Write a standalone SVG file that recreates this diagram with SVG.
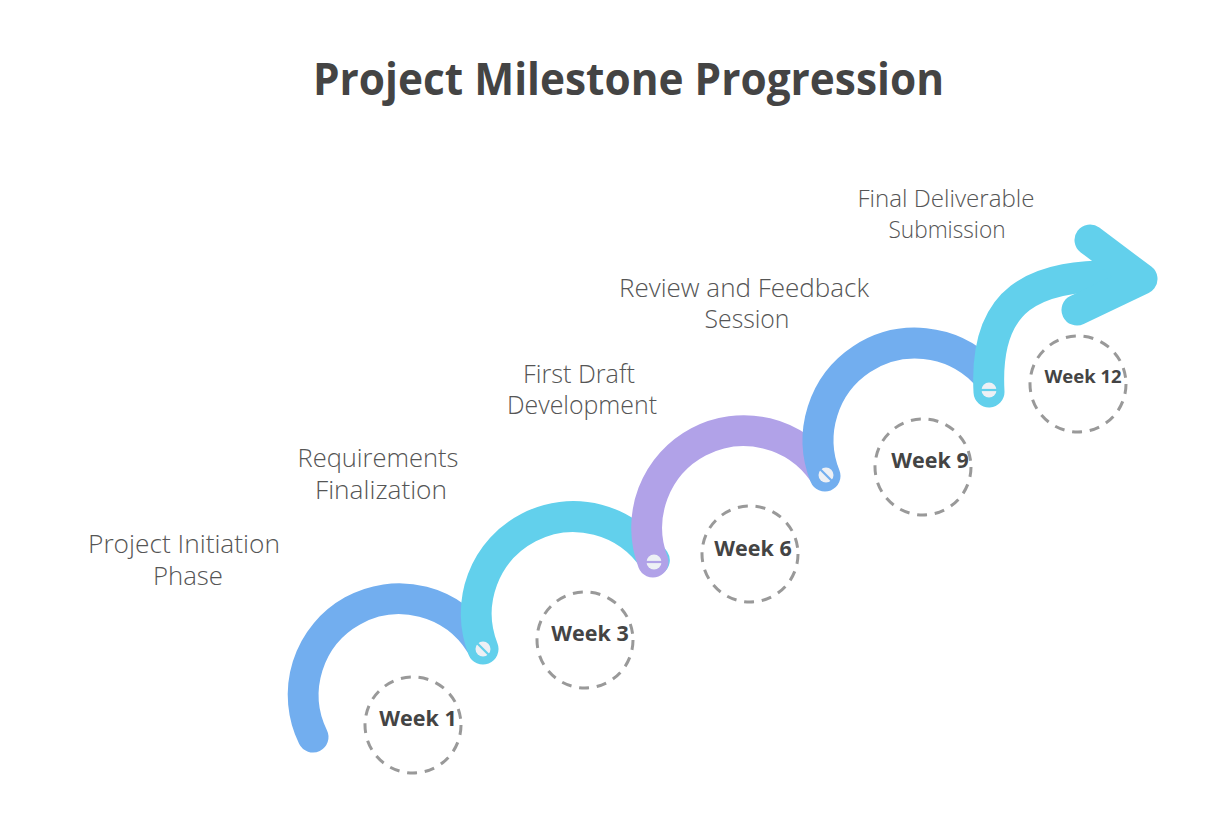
<svg xmlns="http://www.w3.org/2000/svg" width="1212" height="830" viewBox="0 0 1212 830">
<style>
.title{font-family:"Open Sans","Liberation Sans",sans-serif;font-weight:700;font-size:44px;fill:#444;}
.lbl{font-family:"Open Sans","Liberation Sans",sans-serif;font-weight:300;font-size:25px;fill:#555;text-anchor:middle;}
.sm{font-size:24px;}
.wk{font-family:"Open Sans","Liberation Sans",sans-serif;font-weight:700;font-size:21.5px;fill:#444;text-anchor:middle;}
.wk12{font-size:18.5px;}
.ring{fill:none;stroke:#999;stroke-width:3;stroke-dasharray:10 7.8;}
.arc{fill:none;stroke-width:31;stroke-linecap:round;stroke-linejoin:round;}
.blue{stroke:#72AEEF;}
.cyan{stroke:#62D0EC;}
.purple{stroke:#B1A2E8;}
.dot{fill:#EDF0F5;}
.stripe{stroke-width:2.2;}
</style>
<rect width="1212" height="830" fill="#fff"/>
<text class="title" x="313" y="95" textLength="631" lengthAdjust="spacingAndGlyphs">Project Milestone Progression</text>

<g id="connectors">
<path class="arc blue" d="M 313 737 A 96 96 0 0 1 480.5 643.7"/>
<path class="arc cyan" d="M 483 649 A 97 97 0 0 1 654.3 560.2"/>
<circle class="dot" cx="483" cy="649" r="7.5"/>
<line class="stripe cyan" x1="477" y1="643" x2="489" y2="655"/>
<path class="arc purple" d="M 653 562 A 97 97 0 0 1 823.3 472.2"/>
<circle class="dot" cx="654" cy="562" r="7.5"/>
<line class="stripe purple" x1="646" y1="562" x2="662" y2="562"/>
<path class="arc blue" d="M 825 476 A 97 97 0 0 1 983.6 371.4"/>
<circle class="dot" cx="826" cy="475" r="7.5"/>
<line class="stripe blue" x1="820" y1="469" x2="832" y2="481"/>
<path class="arc cyan" d="M 989 392 C 984 300 1030 272 1130 276"/>
<polyline class="arc cyan" points="1090,240 1142,279 1077,310"/>
<circle class="dot" cx="989" cy="390" r="7.5"/>
<line class="stripe cyan" x1="981" y1="390" x2="997" y2="390"/>
</g>

<g id="m1">
<text class="lbl" x="184" y="553" textLength="192" lengthAdjust="spacingAndGlyphs">Project Initiation</text>
<text class="lbl" x="188" y="585" textLength="70" lengthAdjust="spacingAndGlyphs">Phase</text>
<circle class="ring" cx="413" cy="725" r="48"/>
<text class="wk" x="418" y="726">Week 1</text>
</g>
<g id="m2">
<text class="lbl" x="378" y="467" textLength="161" lengthAdjust="spacingAndGlyphs">Requirements</text>
<text class="lbl" x="381" y="499" textLength="132" lengthAdjust="spacingAndGlyphs">Finalization</text>
<circle class="ring" cx="585" cy="640" r="48"/>
<text class="wk" x="590" y="641">Week 3</text>
</g>
<g id="m3">
<text class="lbl" x="579" y="383" textLength="112" lengthAdjust="spacingAndGlyphs">First Draft</text>
<text class="lbl" x="582" y="414" textLength="150" lengthAdjust="spacingAndGlyphs">Development</text>
<circle class="ring" cx="750" cy="554" r="48"/>
<text class="wk" x="753" y="556">Week 6</text>
</g>
<g id="m4">
<text class="lbl" x="744" y="297" textLength="250" lengthAdjust="spacingAndGlyphs">Review and Feedback</text>
<text class="lbl" x="747" y="328" textLength="85" lengthAdjust="spacingAndGlyphs">Session</text>
<circle class="ring" cx="923" cy="467" r="48"/>
<text class="wk" x="930" y="468">Week 9</text>
</g>
<g id="m5">
<text class="lbl sm" x="946" y="207" textLength="177" lengthAdjust="spacingAndGlyphs">Final Deliverable</text>
<text class="lbl sm" x="947" y="238" textLength="117" lengthAdjust="spacingAndGlyphs">Submission</text>
<circle class="ring" cx="1078" cy="384" r="48"/>
<text class="wk wk12" x="1083" y="383">Week 12</text>
</g>
</svg>
